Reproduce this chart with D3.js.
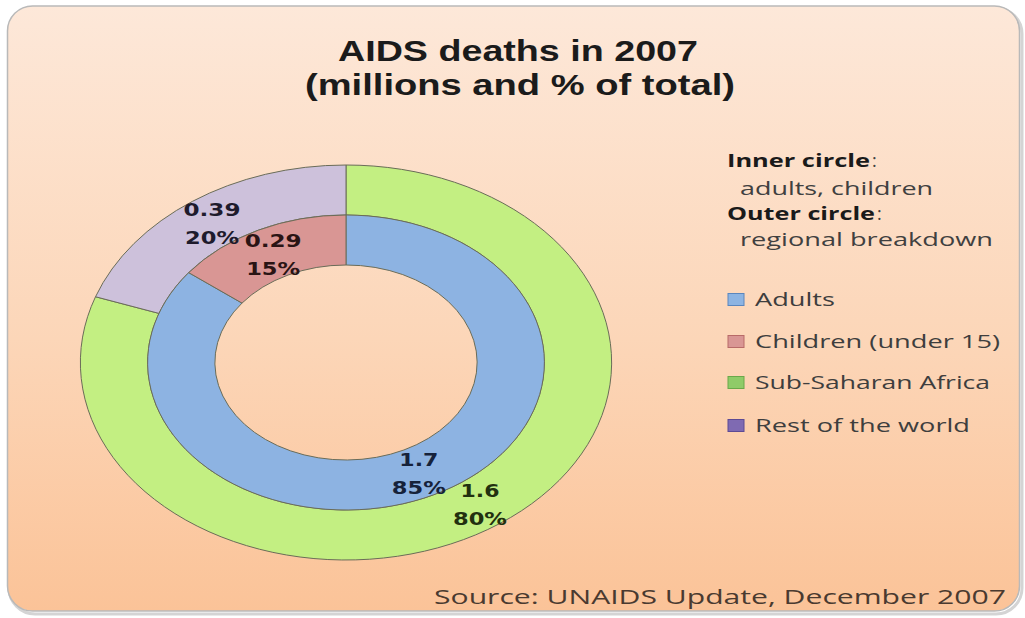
<!DOCTYPE html>
<html>
<head>
<meta charset="utf-8">
<script src="https://cdn.jsdelivr.net/npm/d3@7"></script>
<style>
  html, body { margin: 0; padding: 0; background: #ffffff; }
  svg { display: block; }
</style>
</head>
<body>
<svg id="chart" width="1025" height="618"></svg>
<script>
// ---------- data ----------
const titleLines = ["AIDS deaths in 2007", "(millions and % of total)"];
const innerCategories = ["Adults", "Children (under 15)"];
const innerValues = [1.7, 0.29];
const outerCategories = ["Sub-Saharan Africa", "Rest of the world"];
const outerValues = [1.6, 0.39];
const noteLines = ["Inner circle", "adults, children", "Outer circle", "regional breakdown"];
const legendLabels = ["Adults", "Children (under 15)", "Sub-Saharan Africa", "Rest of the world"];
const sourceText = "Source: UNAIDS Update, December  2007";

// ---------- styles ----------
const innerColors = ["#8db3e2", "#d99694"];
const outerColors = ["#c3ef82", "#cdc1db"];
const legendColors = ["#8db4e2", "#d99694", "#8fcb68", "#7f6ab2"];
const legendStroke = ["#5a86bd", "#b86a68", "#6aa84a", "#5d4a94"];

const svg = d3.select("#chart");
const defs = svg.append("defs");
const grad = defs.append("linearGradient").attr("id", "bg").attr("x1", 0).attr("y1", 0).attr("x2", 0).attr("y2", 1);
grad.append("stop").attr("offset", "0%").attr("stop-color", "#fde8d9");
grad.append("stop").attr("offset", "55%").attr("stop-color", "#fcd6b8");
grad.append("stop").attr("offset", "100%").attr("stop-color", "#fbc398");

// panel shadow + panel
svg.append("rect").attr("x", 9).attr("y", 8).attr("width", 1013).attr("height", 606)
  .attr("rx", 26).attr("fill", "none").attr("stroke", "#d4d4d4").attr("stroke-width", 3);
svg.append("rect").attr("x", 7.5).attr("y", 6).attr("width", 1012).attr("height", 605)
  .attr("rx", 25).attr("fill", "url(#bg)").attr("stroke", "#b9b9b9").attr("stroke-width", 1.5);

// ---------- title ----------
const titleBaselines = [61, 95];
const titleWidths = [360, 430];
const titleCenters = [518, 520];
titleLines.forEach((t, i) => {
  svg.append("text")
    .attr("x", titleCenters[i]).attr("y", titleBaselines[i])
    .attr("text-anchor", "middle")
    .attr("font-family", "'Liberation Sans', Arial, sans-serif").attr("font-weight", 700)
    .attr("font-size", 30).attr("fill", "#1b1b1b")
    .attr("textLength", titleWidths[i]).attr("lengthAdjust", "spacingAndGlyphs")
    .text(t);
});

// ---------- doughnut ----------
const cx = 346, cy = 362.5, sx = 1.345;
const rHole = 97.5, rMid = 147.5, rOut = 197.5;
const pie = d3.pie().sort(null).value(d => d);
const innerArc = d3.arc().innerRadius(rHole).outerRadius(rMid);
const outerArc = d3.arc().innerRadius(rMid).outerRadius(rOut);
const innerPie = pie(innerValues);
const outerPie = pie(outerValues);
const innerTotal = d3.sum(innerValues), outerTotal = d3.sum(outerValues);
const pct = d3.format(".0%");

const g = svg.append("g").attr("transform", `translate(${cx},${cy}) scale(${sx},1)`);
g.selectAll("path.outer").data(outerPie).join("path")
  .attr("class", "outer").attr("d", outerArc)
  .attr("fill", (d, i) => outerColors[i])
  .attr("stroke", "#6a6c58").attr("stroke-width", 1).attr("vector-effect", "non-scaling-stroke");
g.selectAll("path.inner").data(innerPie).join("path")
  .attr("class", "inner").attr("d", innerArc)
  .attr("fill", (d, i) => innerColors[i])
  .attr("stroke", "#6a6c58").attr("stroke-width", 1).attr("vector-effect", "non-scaling-stroke");

// labels at arc centroids
const labelG = svg.append("g");
function addLabel(arcGen, d, total, color) {
  const [x, y] = arcGen.centroid(d);
  const px = cx + x * sx, py = cy + y;
  const lines = [String(d.data), pct(d.data / total)];
  lines.forEach((t, i) => {
    const w = i === 0 ? (t.length >= 4 ? 57 : 39) : 54;
    labelG.append("text")
      .attr("x", px).attr("y", py + (i === 0 ? -6 : 22))
      .attr("text-anchor", "middle")
      .attr("font-family", "'DejaVu Sans', Verdana, sans-serif").attr("font-weight", 700)
      .attr("font-size", 18).attr("fill", color)
      .attr("textLength", w).attr("lengthAdjust", "spacingAndGlyphs")
      .text(t);
  });
}
outerPie.forEach(d => addLabel(outerArc, d, outerTotal, d.index === 0 ? "#22300f" : "#1e1b2c"));
innerPie.forEach(d => addLabel(innerArc, d, innerTotal, d.index === 0 ? "#16223a" : "#2a1414"));

// ---------- notes ----------
const noteX = [727, 740, 727, 740];
const noteY = [167, 195, 220, 246];
const noteW = [143, 193, 148, 253];
noteLines.forEach((t, i) => {
  const bold = i % 2 === 0;
  svg.append("text")
    .attr("x", noteX[i]).attr("y", noteY[i])
    .attr("font-family", "'Open Sans', sans-serif").attr("font-weight", bold ? 700 : 400)
    .attr("font-size", 18).attr("fill", bold ? "#1a1a1a" : "#404040")
    .attr("textLength", noteW[i]).attr("lengthAdjust", "spacingAndGlyphs")
    .text(t);
  if (bold) {
    svg.append("text")
      .attr("x", noteX[i] + noteW[i] + 2).attr("y", noteY[i])
      .attr("font-family", "'Open Sans', sans-serif").attr("font-size", 18).attr("fill", "#404040")
      .text(":");
  }
});

// ---------- legend ----------
const legY = [306, 348, 389, 432];
const legW = [80, 245, 235, 215];
legendLabels.forEach((t, i) => {
  svg.append("rect")
    .attr("x", 728).attr("y", legY[i] - 12.5).attr("width", 16).attr("height", 12)
    .attr("fill", legendColors[i]).attr("stroke", legendStroke[i]).attr("stroke-width", 1);
  svg.append("text")
    .attr("x", 755).attr("y", legY[i])
    .attr("font-family", "'Open Sans', sans-serif").attr("font-size", 18).attr("fill", "#3e3e3e")
    .attr("textLength", legW[i]).attr("lengthAdjust", "spacingAndGlyphs")
    .text(t);
});

// ---------- source ----------
svg.append("text")
  .attr("x", 434).attr("y", 604)
  .attr("font-family", "'Open Sans', sans-serif").attr("font-size", 20).attr("fill", "#4a3a30")
  .attr("textLength", 572).attr("lengthAdjust", "spacingAndGlyphs")
  .text(sourceText);
</script>
</body>
</html>
